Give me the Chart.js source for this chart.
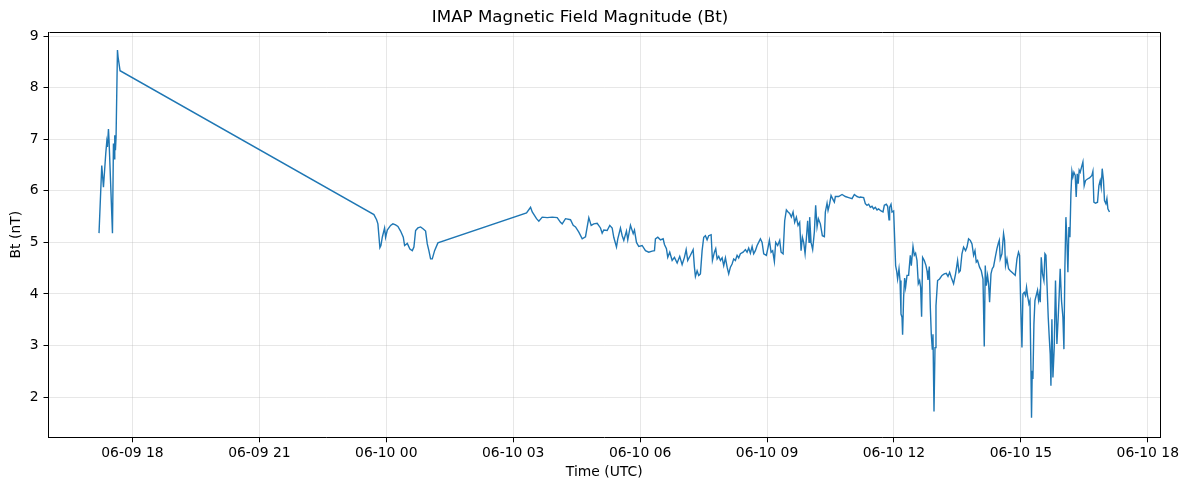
<!DOCTYPE html>
<html>
<head>
<meta charset="utf-8">
<title>IMAP Magnetic Field Magnitude (Bt)</title>
<script src="https://cdn.jsdelivr.net/npm/chart.js@4.4.1/dist/chart.umd.min.js"></script>
<style>
  html, body { margin: 0; padding: 0; background: #fff; }
  #wrap { width: 1187px; height: 490px; }
</style>
</head>
<body>
<div id="wrap"><canvas id="btChart" width="1187" height="490"></canvas></div>
<script>
// time in hours since 2025-06-09 00:00 UTC
const timeHours = [
  17.210, 17.275, 17.315, 17.369, 17.393, 17.409, 17.433, 17.447, 17.528, 17.551,
  17.565, 17.582, 17.598, 17.613, 17.646, 17.660, 17.707,
  23.708, 23.771, 23.802, 23.849, 23.873, 23.906, 23.960, 23.984, 24.024, 24.102,
  24.156, 24.220, 24.275, 24.338, 24.402, 24.433, 24.497, 24.558, 24.615, 24.653,
  24.693, 24.747, 24.811, 24.875, 24.929, 24.969, 25.007, 25.047, 25.087, 25.142, 25.220,
  27.315, 27.410, 27.450, 27.551, 27.606, 27.686, 27.804, 27.922, 28.040, 28.118,
  28.158, 28.236, 28.354, 28.418, 28.473, 28.551, 28.631, 28.709, 28.749, 28.787,
  28.843, 28.905, 28.985, 29.063, 29.103, 29.141, 29.221, 29.283, 29.339, 29.377,
  29.441, 29.472, 29.535, 29.576, 29.614, 29.677, 29.708, 29.772, 29.836, 29.866,
  29.914, 29.968, 30.048, 30.126, 30.204, 30.284, 30.339, 30.362, 30.417, 30.480,
  30.544, 30.575, 30.622, 30.653, 30.700, 30.757, 30.811, 30.875, 30.936, 30.993,
  31.047, 31.088, 31.125, 31.189, 31.253,
  31.283, 31.307, 31.347, 31.385, 31.425, 31.465, 31.503, 31.543, 31.583, 31.621,
  31.678, 31.709, 31.756, 31.787, 31.820, 31.858, 31.898, 31.938, 31.976, 32.016,
  32.056, 32.094, 32.134, 32.174, 32.212, 32.252, 32.292, 32.330, 32.370, 32.434,
  32.488, 32.528, 32.566, 32.606, 32.647, 32.684, 32.724, 32.765, 32.802, 32.843,
  32.883, 32.921, 32.984, 33.025, 33.055, 33.095, 33.133, 33.173, 33.204, 33.251,
  33.299, 33.332, 33.379, 33.417, 33.457, 33.497, 33.535, 33.575, 33.615, 33.653,
  33.693, 33.733, 33.771, 33.804, 33.835, 33.866, 33.899, 33.929, 33.960, 33.993,
  34.007, 34.040, 34.078, 34.118, 34.149, 34.182, 34.213, 34.260, 34.307, 34.355,
  34.378, 34.418, 34.442, 34.480, 34.513, 34.560, 34.591, 34.615, 34.692, 34.773,
  34.851, 34.929, 35.009, 35.063, 35.127, 35.189,
  35.205, 35.283, 35.323, 35.363, 35.401, 35.441, 35.481, 35.519, 35.559, 35.600,
  35.637, 35.694, 35.741, 35.772, 35.819, 35.850, 35.883, 35.897, 35.930, 35.954,
  35.992, 36.015, 36.039, 36.063, 36.086, 36.119, 36.143, 36.166, 36.190, 36.204,
  36.228, 36.252, 36.275, 36.308, 36.346, 36.386, 36.410, 36.450, 36.481, 36.511,
  36.544, 36.575, 36.606, 36.630, 36.653, 36.677, 36.717, 36.757, 36.781, 36.804,
  36.835, 36.859, 36.882, 36.906, 36.922, 36.946, 36.970, 36.993, 37.031, 37.078,
  37.135, 37.189, 37.237, 37.277, 37.315, 37.355, 37.409, 37.456, 37.504, 37.537,
  37.567, 37.607, 37.645, 37.693, 37.726, 37.763, 37.804, 37.844, 37.882, 37.915,
  37.945, 37.976, 38.023, 38.064, 38.104, 38.134, 38.158, 38.182, 38.212, 38.236,
  38.260, 38.293, 38.323, 38.354, 38.394, 38.434, 38.465, 38.489,
  38.512, 38.552, 38.590, 38.614, 38.637, 38.670, 38.708, 38.748, 38.788, 38.826,
  38.866, 38.907, 38.944, 38.968, 39.001, 39.025, 39.048, 39.079, 39.110, 39.133,
  39.157, 39.190, 39.214, 39.237, 39.251, 39.268, 39.284, 39.308, 39.332, 39.362,
  39.393, 39.417, 39.440, 39.457, 39.481, 39.511, 39.544, 39.568, 39.592, 39.615,
  39.646, 39.670, 39.693, 39.710, 39.733, 39.757, 39.788, 39.818, 39.851, 39.882,
  39.906, 39.929, 39.960, 39.993, 40.017, 40.040, 40.064, 40.088, 40.111, 40.135,
  40.159, 40.182, 40.206, 40.229, 40.253, 40.284, 40.307, 40.331, 40.355, 40.378,
  40.402, 40.433, 40.466, 40.496, 40.527, 40.574, 40.622, 40.678, 40.702, 40.725,
  40.763, 40.811, 40.844, 40.874, 40.898, 40.922, 40.952, 40.976, 41.009, 41.033,
  41.056, 41.094
];

// Bt in nT, one value per time above
const btValues = [
  5.18, 6.49, 6.07, 6.72, 6.95, 6.85, 7.20, 6.98, 5.18, 6.92,
  6.62, 7.08, 6.79, 7.04, 8.73, 8.60, 8.33,
  5.54, 5.44, 5.36, 4.90, 4.94, 5.10, 5.28, 5.10, 5.24, 5.33,
  5.36, 5.34, 5.31, 5.22, 5.10, 4.94, 4.98, 4.87, 4.84, 4.91,
  5.23, 5.28, 5.30, 5.26, 5.22, 4.97, 4.84, 4.68, 4.68, 4.84, 4.99,
  5.57, 5.68, 5.59, 5.46, 5.41, 5.49, 5.48, 5.49, 5.48, 5.39,
  5.36, 5.46, 5.44, 5.33, 5.30, 5.20, 5.07, 5.11, 5.30, 5.48,
  5.33, 5.36, 5.37, 5.28, 5.18, 5.24, 5.23, 5.33, 5.28, 5.10,
  4.91, 5.07, 5.28, 5.13, 5.04, 5.22, 5.05, 5.33, 5.17, 5.24,
  5.00, 4.92, 4.94, 4.84, 4.81, 4.83, 4.84, 5.07, 5.10, 5.05,
  5.07, 4.96, 4.88, 4.71, 4.81, 4.65, 4.71, 4.60, 4.73, 4.57,
  4.71, 4.86, 4.65, 4.75, 4.86,
  4.52, 4.34, 4.45, 4.36, 4.39, 4.84, 5.10, 5.13, 5.05, 5.13,
  5.15, 4.65, 4.81, 4.88, 4.68, 4.73, 4.65, 4.70, 4.55, 4.70,
  4.52, 4.39, 4.52, 4.58, 4.68, 4.65, 4.75, 4.70, 4.78, 4.81,
  4.86, 4.81, 4.89, 4.79, 4.92, 4.78, 4.84, 4.94, 5.00, 5.07,
  5.00, 4.78, 4.75, 4.91, 5.04, 4.81, 4.84, 4.63, 5.00, 4.94,
  5.04, 4.81, 4.78, 5.42, 5.63, 5.59, 5.56, 5.49, 5.59, 5.39,
  5.49, 5.33, 5.39, 4.84, 5.10, 5.00, 4.78, 5.07, 5.42, 5.00,
  5.49, 5.00, 4.86, 5.20, 5.72, 5.30, 5.46, 5.36, 5.13, 5.11,
  5.59, 5.76, 5.62, 5.75, 5.91, 5.83, 5.78, 5.89, 5.89, 5.93,
  5.89, 5.87, 5.85, 5.93, 5.89, 5.87,
  5.88, 5.87, 5.75, 5.72, 5.74, 5.68, 5.70, 5.65, 5.68, 5.63,
  5.65, 5.61, 5.59, 5.72, 5.74, 5.70, 5.44, 5.68, 5.74, 5.59,
  5.61, 5.10, 4.55, 4.45, 4.29, 4.49, 4.26, 3.61, 3.55, 3.21,
  3.93, 4.31, 4.13, 4.36, 4.36, 4.75, 4.55, 4.92, 4.75, 4.79,
  4.65, 4.20, 4.26, 4.13, 3.56, 4.71, 4.65, 4.55, 4.45, 4.27,
  4.53, 3.74, 3.22, 2.93, 3.22, 1.72, 2.96, 3.77, 4.26, 4.29,
  4.36, 4.39, 4.40, 4.34, 4.42, 4.32, 4.20, 4.39, 4.65, 4.42,
  4.45, 4.78, 4.91, 4.84, 4.91, 5.07, 5.04, 4.97, 4.75, 4.84,
  4.62, 4.65, 4.52, 4.45, 4.29, 2.98, 4.55, 4.16, 4.36, 4.20,
  3.84, 4.39, 4.49, 4.53, 4.71, 4.88, 4.98, 5.04,
  4.68, 4.78, 5.17, 5.04, 4.55, 4.68, 4.49, 4.45, 4.42, 4.39,
  4.36, 4.68, 4.81, 4.75, 3.61, 2.96, 4.00, 4.03, 3.97, 4.13,
  3.97, 3.81, 3.87, 2.57, 1.60, 2.51, 2.35, 3.42, 3.87, 3.97,
  4.07, 3.88, 4.00, 3.84, 4.71, 4.39, 4.26, 4.78, 4.75, 4.23,
  3.55, 3.16, 2.83, 2.22, 3.51, 2.38, 2.96, 4.26, 3.03, 3.55,
  4.00, 4.49, 3.87, 3.55, 2.93, 4.52, 5.49, 5.04, 4.42, 5.30,
  5.10, 5.94, 6.38, 6.27, 6.36, 6.30, 5.88, 6.33, 6.14, 6.40,
  6.36, 6.46, 6.56, 6.10, 6.20, 6.23, 6.25, 6.30, 6.38, 5.78,
  5.76, 5.78, 6.10, 6.20, 6.07, 6.43, 6.20, 5.81, 5.75, 5.85,
  5.65, 5.59
];

const xTickHours = [18, 21, 24, 27, 30, 33, 36, 39, 42];
const xTickLabels = ['06-09 18', '06-09 21', '06-10 00', '06-10 03', '06-10 06',
                     '06-10 09', '06-10 12', '06-10 15', '06-10 18'];
const yTicks = [2, 3, 4, 5, 6, 7, 8, 9];

const points = timeHours.map((h, i) => ({ x: h, y: btValues[i] }));

Chart.defaults.font.family = "'DejaVu Sans', sans-serif";
Chart.defaults.color = '#000';

const gridColor = 'rgba(176,176,176,0.3)';

// matplotlib style box around the plot area
const frame = {
  id: 'frame',
  afterDraw(chart) {
    const { ctx, chartArea: a } = chart;
    ctx.save();
    ctx.strokeStyle = '#000';
    ctx.lineWidth = 1;
    ctx.beginPath();
    ctx.moveTo(Math.round(a.left) + 0.5, Math.round(a.top) + 0.5);
    ctx.lineTo(Math.round(a.right) + 0.5, Math.round(a.top) + 0.5);
    ctx.lineTo(Math.round(a.right) + 0.5, Math.round(a.bottom) + 0.5);
    ctx.stroke();
    ctx.restore();
  }
};

new Chart(document.getElementById('btChart'), {
  type: 'line',
  data: {
    datasets: [{
      label: 'Bt',
      data: points,
      borderColor: '#1f77b4',
      borderWidth: 1.4,
      pointRadius: 0,
      tension: 0,
      fill: false
    }]
  },
  options: {
    responsive: false,
    animation: false,
    devicePixelRatio: 1,
    layout: { padding: { left: 0, right: 27, top: 0, bottom: 0 } },
    plugins: {
      legend: { display: false },
      tooltip: { enabled: false },
      title: {
        display: true,
        text: 'IMAP Magnetic Field Magnitude (Bt)',
        font: { size: 16.7, weight: 'normal' },
        color: '#000',
        padding: { top: 8, bottom: 4 }
      }
    },
    scales: {
      x: {
        type: 'linear',
        min: 16.016,
        max: 42.288,
        afterBuildTicks: (scale) => {
          scale.ticks = xTickHours.map(v => ({ value: v }));
        },
        afterFit: (scale) => { scale.height = 52.7; },
        ticks: {
          autoSkip: false,
          maxRotation: 0,
          padding: 3,
          font: { size: 13.9 },
          color: '#000',
          callback: (value) => {
            const i = xTickHours.indexOf(value);
            return i >= 0 ? xTickLabels[i] : '';
          }
        },
        grid: { color: gridColor, lineWidth: 1, tickColor: '#000', tickLength: 5, tickWidth: 1 },
        border: { display: true, color: '#000', width: 1 },
        title: {
          display: true,
          text: 'Time (UTC)',
          font: { size: 13.9 },
          color: '#000',
          padding: { top: 0, bottom: 9 }
        }
      },
      y: {
        min: 1.22,
        max: 9.08,
        afterBuildTicks: (scale) => {
          scale.ticks = yTicks.map(v => ({ value: v }));
        },
        afterFit: (scale) => { scale.width = 48.5; },
        ticks: {
          padding: 5,
          font: { size: 13.9 },
          color: '#000'
        },
        grid: { color: gridColor, lineWidth: 1, tickColor: '#000', tickLength: 5, tickWidth: 1 },
        border: { display: true, color: '#000', width: 1 },
        title: {
          display: true,
          text: 'Bt (nT)',
          font: { size: 13.9 },
          color: '#000',
          padding: { top: 8, bottom: 8 }
        }
      }
    }
  },
  plugins: [frame]
});
</script>
</body>
</html>
